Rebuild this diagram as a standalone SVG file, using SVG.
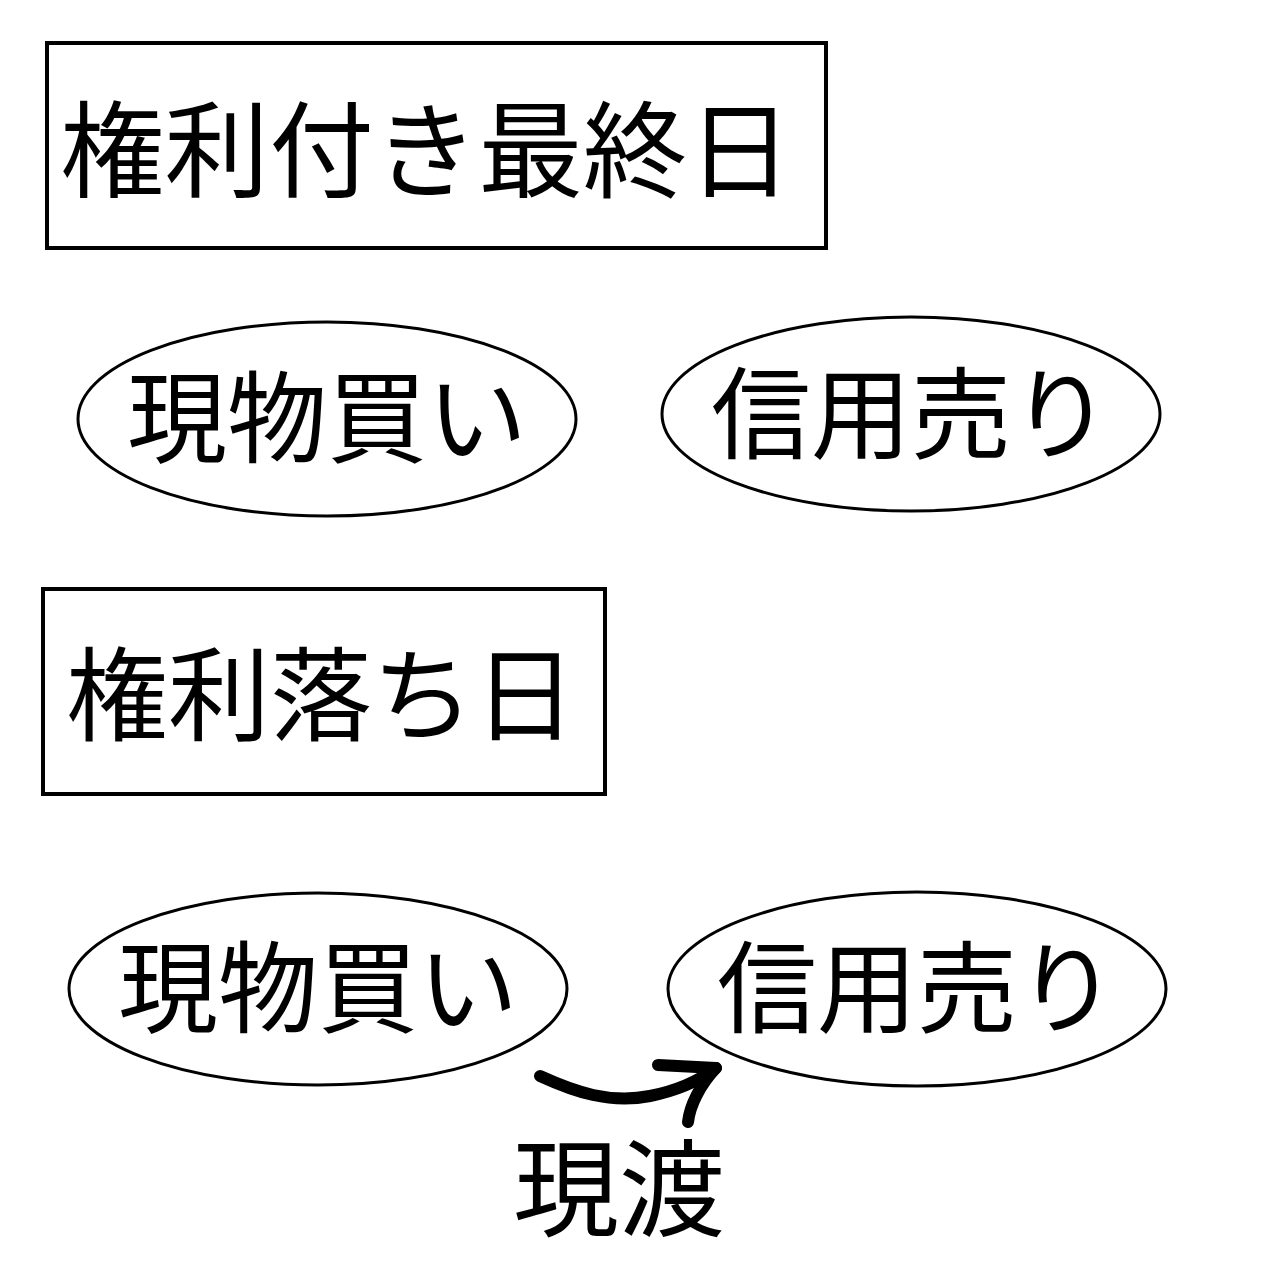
<svg xmlns="http://www.w3.org/2000/svg" width="1280" height="1280" viewBox="0 0 1280 1280">
<style>
.box{fill:#fff;stroke:#000;stroke-width:4}
.ell{fill:#fff;stroke:#000;stroke-width:3}
.t{font-family:"Noto Sans CJK JP","Noto Sans CJK SC",sans-serif;fill:#000}
.arr{fill:none;stroke:#000;stroke-width:12;stroke-linecap:round;stroke-linejoin:round}
</style>
<rect width="1280" height="1280" fill="#fff"/>
<g id="kenri-tsuki">
<rect class="box" x="47" y="43" width="779" height="205"/>
<text class="t" x="60" y="189" font-size="105" textLength="732" lengthAdjust="spacingAndGlyphs">権利付き最終日</text>
</g>
<g id="genbutsu1">
<ellipse class="ell" cx="327" cy="419" rx="249" ry="97"/>
<text class="t" x="327" y="455" font-size="100" text-anchor="middle">現物買い</text>
</g>
<g id="shinyo1">
<ellipse class="ell" cx="911" cy="414" rx="249" ry="97"/>
<text class="t" x="911" y="451" font-size="100" text-anchor="middle">信用売り</text>
</g>
<g id="kenri-ochi">
<rect class="box" x="43" y="589" width="562" height="205"/>
<text class="t" x="66" y="733" font-size="102">権利落ち日</text>
</g>
<g id="genbutsu2">
<ellipse class="ell" cx="318" cy="989" rx="249" ry="96"/>
<text class="t" x="318" y="1025" font-size="100" text-anchor="middle">現物買い</text>
</g>
<g id="shinyo2">
<ellipse class="ell" cx="917" cy="989" rx="249" ry="97"/>
<text class="t" x="917" y="1025" font-size="100" text-anchor="middle">信用売り</text>
</g>
<g id="connectors">
<path class="arr" d="M540 1076 C575 1092 610 1104 650 1096 C680 1090 700 1080 716 1068"/>
<path class="arr" d="M658 1065 L716 1068 C700 1085 690 1105 688 1122"/>
</g>
<g id="label-genwatashi">
<text class="t" x="513" y="1228" font-size="106">現渡</text>
</g>
</svg>
